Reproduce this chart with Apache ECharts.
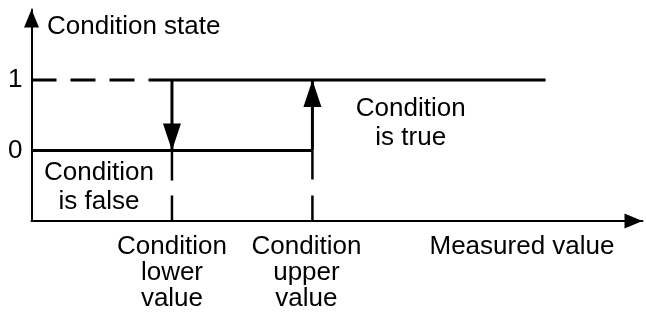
<!DOCTYPE html>
<html>
<head>
<meta charset="utf-8">
<title>Condition state</title>
<script src="https://cdn.jsdelivr.net/npm/echarts@6/dist/echarts.min.js"></script>
<style>
  html, body { margin: 0; padding: 0; background: #fff; }
  #chart { width: 646px; height: 320px; }
</style>
</head>
<body>
<div id="chart"></div>
<script>
// state levels shown on the y axis
const stateTicks = [0, 1]
// switching thresholds on the measured-value axis
const thresholdValues = [1, 2]
const thresholdLabels = ['Condition\nlower\nvalue', 'Condition\nupper\nvalue']
// where the "true" level stops
const trueLevelEnd = 3.66
// notes inside the plot
const noteX = [0.48, 2.7]
const noteY = [-0.525, 0.39]
const noteText = ['Condition\nis false', 'Condition\nis true']

const FONT = 'Liberation Sans, Arial, Helvetica, sans-serif'
const INK = '#000'

const lower = thresholdValues[0]
const upper = thresholdValues[1]

const chart = echarts.init(document.getElementById('chart'), null, { renderer: 'canvas' })

// plain segment between two points
function segment(name, points, width, dash) {
  return {
    name,
    type: 'line',
    data: points,
    symbol: 'none',
    silent: true,
    lineStyle: { color: INK, width, type: dash || 'solid', cap: 'butt' },
    z: 3,
  }
}

// segment with a filled triangle whose tip sits on the end point
function arrow(name, from, to) {
  const down = to[1] < from[1]
  return {
    name,
    type: 'line',
    silent: true,
    showSymbol: true,
    symbol: 'none',
    data: [
      { value: from, symbol: 'none' },
      {
        value: to,
        symbol: 'triangle',
        symbolSize: [18, 27],
        symbolRotate: down ? 180 : 0,
        symbolOffset: [0, down ? -13.5 : 13.5],
        itemStyle: { color: INK, borderWidth: 0, opacity: 1 },
      },
    ],
    lineStyle: { color: INK, width: 3 },
    z: 4,
  }
}

// the upper-value label sits a little left of its guide line
function thresholdFormatter(v) {
  const i = thresholdValues.indexOf(v)
  const tag = i === 1 ? 'shift' : 'plain'
  return thresholdLabels[i].split('\n').map((s) => `{${tag}|${s}}`).join('\n')
}

const labelText = { fontFamily: FONT, fontSize: 26, lineHeight: 26, color: INK }

chart.setOption({
  animation: false,
  backgroundColor: '#fff',
  textStyle: { fontFamily: FONT, color: INK },
  grid: { left: 31.5, top: 9.5, width: 611, height: 211.5, containLabel: false, outerBoundsMode: 'none' },
  xAxis: {
    type: 'value',
    min: 0,
    max: 4.35,
    name: 'Measured value',
    nameLocation: 'end',
    nameGap: -28,
    nameMoveOverlap: false,
    nameTextStyle: {
      fontFamily: FONT, fontSize: 26, color: INK,
      align: 'right', verticalAlign: 'top', lineHeight: 26, padding: [13, 0, 0, 0],
    },
    axisLine: {
      onZero: false,
      lineStyle: { color: INK, width: 2 },
      symbol: ['none', 'triangle'],
      symbolSize: [15, 18],
      symbolOffset: [0, -9],
    },
    axisTick: { show: false },
    splitLine: { show: false },
    axisLabel: {
      customValues: thresholdValues,
      formatter: thresholdFormatter,
      margin: 13,
      ...labelText,
      align: 'center',
      rich: {
        plain: { ...labelText },
        shift: { ...labelText, padding: [0, 12, 0, 0] },
      },
    },
  },
  yAxis: {
    type: 'value',
    min: -1,
    max: 2,
    name: 'Condition state',
    nameLocation: 'end',
    nameGap: -17.5,
    nameMoveOverlap: false,
    nameTextStyle: {
      fontFamily: FONT, fontSize: 26, color: INK,
      align: 'left', verticalAlign: 'middle', padding: [0, 0, 0, 15.5],
    },
    axisLine: {
      onZero: false,
      lineStyle: { color: INK, width: 2 },
      symbol: ['none', 'triangle'],
      symbolSize: [15, 18],
      symbolOffset: [0, -9],
    },
    axisTick: { show: false },
    splitLine: { show: false },
    axisLabel: {
      customValues: stateTicks,
      formatter: (v) => String(v),
      margin: 9,
      fontFamily: FONT,
      fontSize: 26,
      color: INK,
    },
  },
  series: [
    segment('true level (dashed)', [[0, 1], [lower, 1]], 3, [25, 14]),
    segment('false level', [[0, 0], [upper, 0]], 3),
    segment('true level', [[lower, 1], [trueLevelEnd, 1]], 3),
    segment('lower guide', [[lower, 0], [lower, -1]], 2.5, [30, 15]),
    segment('upper guide', [[upper, 0], [upper, -1]], 2.5, [29, 16]),
    arrow('switch off', [lower, 1], [lower, 0]),
    arrow('switch on', [upper, 0], [upper, 1]),
    {
      name: 'notes',
      type: 'scatter',
      silent: true,
      symbolSize: 0,
      itemStyle: { opacity: 1 },
      data: noteX.map((x, i) => ({ name: noteText[i], value: [x, noteY[i]] })),
      label: {
        show: true,
        position: 'inside',
        formatter: (p) => p.name,
        fontFamily: FONT,
        fontSize: 26,
        lineHeight: 29,
        color: INK,
        opacity: 1,
        align: 'center',
      },
      z: 5,
    },
  ],
})
</script>
</body>
</html>
